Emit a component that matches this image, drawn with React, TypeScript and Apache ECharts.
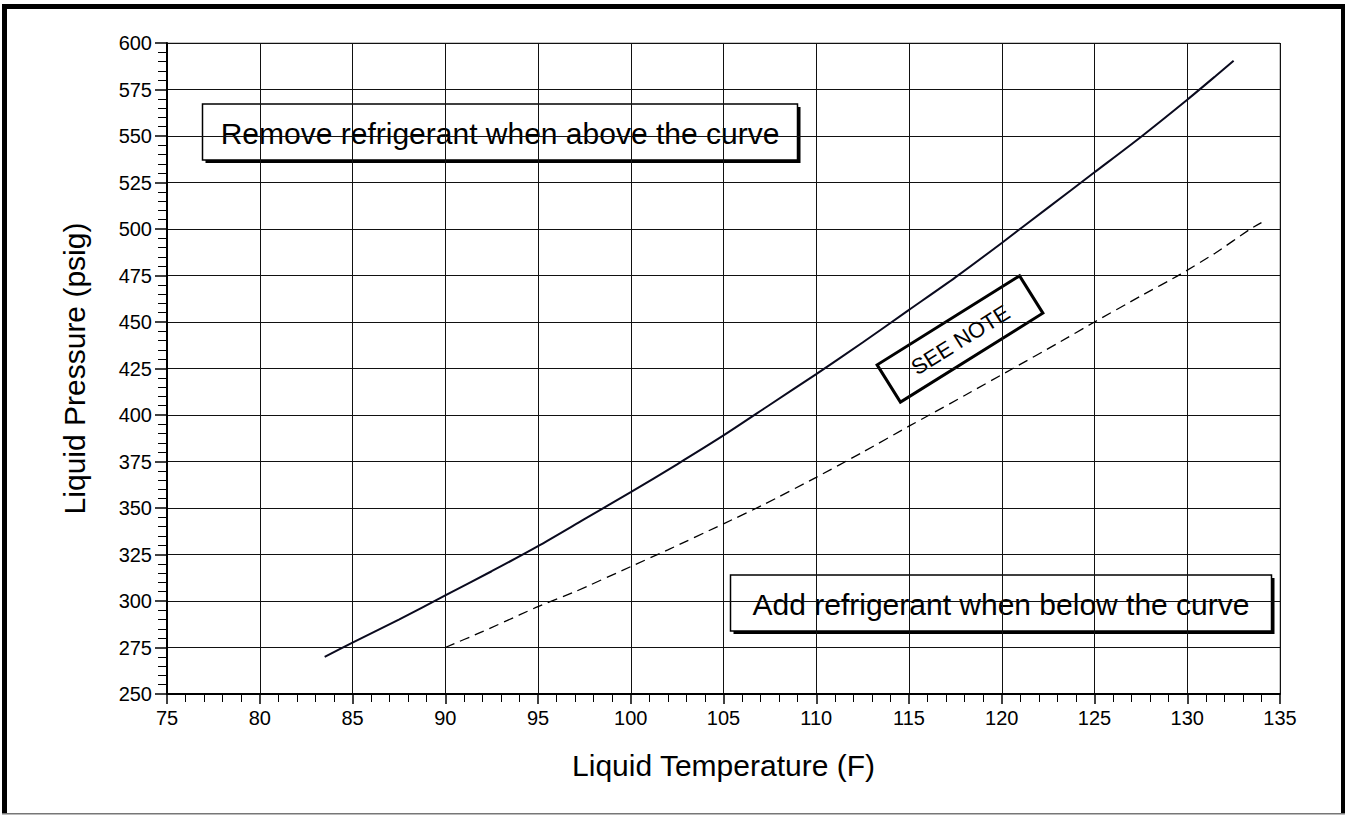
import React, { useEffect, useRef } from "react";
import * as echarts from "echarts";

// Liquid temperature (F) vs liquid pressure (psig)
const upperCurve: [number, number][] = [
  [83.5, 270], [85, 277.6], [87.5, 290], [90, 303], [92.5, 316], [95, 329.5],
  [97.5, 344], [100, 358.5], [102.5, 373.5], [105, 389], [107.5, 405.5],
  [110, 422], [112.5, 439], [115, 456.5], [117.5, 474], [120, 492.5],
  [122.5, 511.5], [125, 530.5], [127.5, 549.5], [130, 569.5], [131.5, 582], [132.5, 590.5],
];

const lowerCurve: [number, number][] = [
  [90, 275], [92, 283.5], [94, 292.5], [95, 297], [97, 305], [100, 318.5],
  [102, 327.5], [105, 341.5], [107.2, 352], [110, 366.5], [112.5, 380],
  [115, 394], [116.1, 400], [118, 410.5], [120.6, 425], [123, 438.5],
  [125, 450], [127.5, 464], [129.6, 475.5], [131.5, 487], [133.4, 500], [134, 503.4],
];

const xTitle = "Liquid Temperature (F)";
const yTitle = "Liquid Pressure (psig)";
const removeNote = "Remove refrigerant when above the curve";
const addNote = "Add refrigerant when below the curve";
const seeNote = "SEE NOTE";

const FONT = "'Liberation Sans', Arial, Helvetica, sans-serif";

function noteBox(cx: number, cy: number, w: number, h: number, text: string) {
  return {
    type: "group",
    x: cx,
    y: cy,
    z: 100,
    children: [
      { type: "rect", shape: { x: -w / 2 + 3, y: -h / 2 + 3, width: w, height: h }, style: { fill: "#000" } },
      { type: "rect", shape: { x: -w / 2, y: -h / 2, width: w, height: h }, style: { fill: "#fff", stroke: "#000", lineWidth: 1.5 } },
      {
        type: "text",
        x: 0,
        y: 1,
        style: { text, fill: "#000", font: `30px ${FONT}`, align: "center", verticalAlign: "middle" },
      },
    ],
  };
}

export default function App() {
  const ref = useRef<HTMLDivElement>(null);

  useEffect(() => {
    if (!ref.current) return;
    const chart = echarts.init(ref.current, null, { renderer: "svg" });
    chart.setOption({
      animation: false,
      backgroundColor: "#fff",
      grid: {
        left: 167,
        right: 65,
        top: 43,
        bottom: 125,
        show: true,
        borderColor: "#888",
        borderWidth: 1,
        containLabel: false,
      },
      xAxis: {
        type: "value",
        min: 75,
        max: 135,
        interval: 5,
        name: xTitle,
        nameLocation: "middle",
        nameGap: 56,
        nameTextStyle: { fontFamily: FONT, fontSize: 30, color: "#000" },
        axisLine: { show: true, onZero: false, lineStyle: { color: "#000", width: 2 } },
        axisTick: { show: true, length: 10, lineStyle: { color: "#000", width: 1.5 } },
        minorTick: { show: true, splitNumber: 5, length: 8, lineStyle: { color: "#000", width: 1 } },
        axisLabel: { fontFamily: FONT, fontSize: 20, color: "#000", margin: 14 },
        splitLine: { show: true, lineStyle: { color: "#111", width: 1 } },
      },
      yAxis: {
        type: "value",
        min: 250,
        max: 600,
        interval: 25,
        name: yTitle,
        nameLocation: "middle",
        nameGap: 78,
        nameTextStyle: { fontFamily: FONT, fontSize: 30, color: "#000" },
        axisLine: { show: true, onZero: false, lineStyle: { color: "#000", width: 2 } },
        axisTick: { show: true, length: 12, lineStyle: { color: "#000", width: 1.5 } },
        minorTick: { show: true, splitNumber: 5, length: 9, lineStyle: { color: "#000", width: 1 } },
        axisLabel: { fontFamily: FONT, fontSize: 20, color: "#000", margin: 15 },
        splitLine: { show: true, lineStyle: { color: "#111", width: 1 } },
      },
      series: [
        {
          type: "line",
          data: upperCurve,
          showSymbol: false,
          smooth: 0.25,
          lineStyle: { color: "#0a0a1e", width: 2 },
          z: 5,
        },
        {
          type: "line",
          data: lowerCurve,
          showSymbol: false,
          smooth: 0.2,
          lineStyle: { color: "#000", width: 1.3, type: [10, 6] },
          z: 5,
        },
      ],
      graphic: [
        // outer frame
        { type: "rect", z: 200, shape: { x: 2, y: 4, width: 1343, height: 5 }, style: { fill: "#000" } },
        { type: "rect", z: 200, shape: { x: 2, y: 4, width: 5, height: 810 }, style: { fill: "#000" } },
        { type: "rect", z: 200, shape: { x: 1341, y: 4, width: 4, height: 810 }, style: { fill: "#000" } },
        { type: "rect", z: 200, shape: { x: 2, y: 813, width: 1343, height: 1.5 }, style: { fill: "#777" } },
        noteBox(500, 132, 595, 56, removeNote),
        noteBox(1001, 603, 541, 56, addNote),
        {
          type: "group",
          x: 960,
          y: 339,
          rotation: (32 * Math.PI) / 180,
          z: 100,
          children: [
            { type: "rect", shape: { x: -84, y: -22, width: 168, height: 44 }, style: { fill: "#fff", stroke: "#000", lineWidth: 3 } },
            {
              type: "text",
              x: 0,
              y: 1,
              style: { text: seeNote, fill: "#000", font: `22px ${FONT}`, align: "center", verticalAlign: "middle" },
            },
          ],
        },
      ],
    });
    return () => chart.dispose();
  }, []);

  return (
    <div
      ref={ref}
      style={{ position: "fixed", left: 0, top: 0, width: 1345, height: 819, background: "#fff" }}
    />
  );
}
